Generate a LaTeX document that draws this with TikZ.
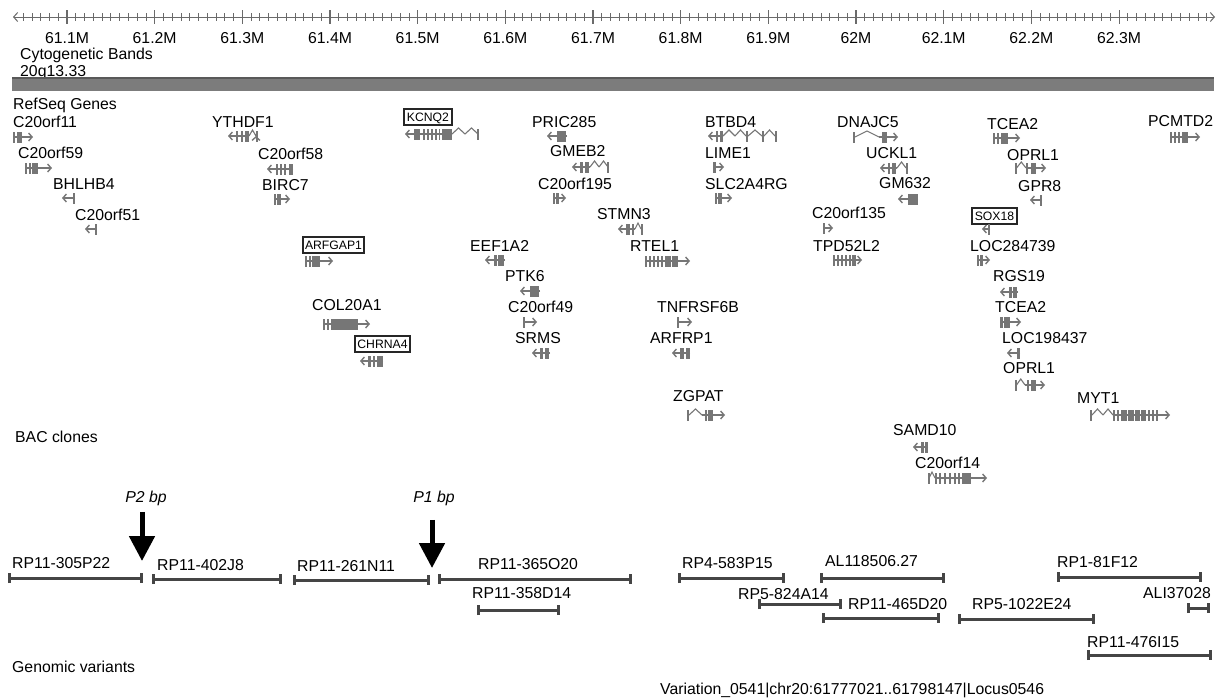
\documentclass[tikz,border=0pt]{standalone}
\usepackage{fontspec}
\setmainfont{Liberation Sans}
\usepackage{tikz}
\usetikzlibrary{arrows.meta, positioning}
\definecolor{genegray}{HTML}{767676}
\definecolor{bandgray}{HTML}{7C7C7C}
\definecolor{clonegray}{HTML}{454545}
\definecolor{rulergray}{HTML}{6A6A6A}
\newcommand{\lfont}{\fontsize{15.8}{18}\selectfont}
\newcommand{\bfont}{\fontsize{12.2}{14}\selectfont}
\tikzstyle{lbl} = [anchor=west, inner sep=0pt, text height=11.3pt, text depth=0pt, font=\lfont]
\tikzstyle{boxed} = [draw=black!85, line width=2pt, rectangle, inner xsep=2.5pt, inner ysep=3.5pt, text height=9pt, text depth=0pt, font=\bfont]
\tikzstyle{strand} = [draw=genegray, line width=1.4pt, -{Straight Barb[length=3.5pt,width=8pt]}]
\tikzstyle{exon} = [fill=genegray]
\tikzstyle{intron} = [draw=genegray, line width=1.1pt]
\tikzstyle{clonebar} = [draw=clonegray, line width=3pt, {Bar[width=10pt]}-{Bar[width=10pt]}]
\tikzstyle{bp} = [line width=5pt, -{Triangle[length=25pt,width=25pt]}]
% y, tail x, head x, exons
\newcommand{\gene}[4]{%
  \draw[strand] (#2,#1) -- (#3,#1);
  \foreach \xa/\xb in {#4} {\fill[exon] (\xa,#1-5.5) rectangle (\xb,#1+5.5);}}
\newcommand{\intronc}[3]{\draw[intron] (#2,#1) -- ({(#2+#3)/2},#1-6) -- (#3,#1);}
% name, label pos, bar x1, bar x2, bar y, text
\newcommand{\bacclone}[6]{%
  \node[lbl] (#1) at (#2) {#6};
  \draw[clonebar] (#3,#5) -- (#4,#5);}

\begin{document}
\begin{tikzpicture}[x=1pt,y=-1pt,>=latex]
    \fill[white] (0,0) rectangle (1219,699);
    \useasboundingbox (0,0) rectangle (1219,699);

    % ruler
    \coordinate (ruleL) at (13,17);
    \coordinate (ruleR) at (1215,17);
    \draw[rulergray, line width=1pt, {Straight Barb[length=4pt,width=9pt]}-{Straight Barb[length=4pt,width=9pt]}] (ruleL) -- (ruleR);
    \foreach \j in {-5,...,130} \draw[rulergray, line width=0.8pt] ({67+8.767*\j},13) -- ++(0,8);
    \foreach \lab [count=\k from 0] in {61.1M,61.2M,61.3M,61.4M,61.5M,61.6M,61.7M,61.8M,61.9M,62M,62.1M,62.2M,62.3M} {
        \draw[rulergray, line width=1.1pt] ({67+87.67*\k},10) -- ++(0,14);
        \node[lbl, anchor=center] (tick\k) at ({67+87.67*\k},38) {\lab};
    }

    \node[lbl] (cyto) at (20,54) {Cytogenetic Bands};
    \node[lbl] (band) at ([yshift=-17pt]cyto.west) {20q13.33};
    \fill[bandgray] (12,77) rectangle (1214,91);
    \draw[black!65, line width=1.5pt] (12,78) -- (1214,78);

    \node[lbl] (refseq) at (13,104) {RefSeq Genes};

    \node[lbl] (c20orf11) at (13,122) {C20orf11};
    \gene{137}{13}{33}{13/15,16.5/22}
    \node[lbl] (c20orf59) at (18,153) {C20orf59};
    \gene{168}{25}{52}{25/27,28.5/30.5,32/38}
    \node[lbl] (bhlhb4) at (53,184) {BHLHB4};
    \gene{198}{75}{62}{72.5/75}
    \node[lbl] (c20orf51) at (75,215) {C20orf51};
    \gene{229}{97}{85}{94.5/97}

    \node[lbl] (ythdf1) at (212,122) {YTHDF1};
    \gene{136}{249}{228}{236/238,241/243,245/249}
    \intronc{136}{249}{256}
    \gene{136}{256}{256}{256/258}
    \node[lbl] (c20orf58) at (258,154) {C20orf58};
    \gene{169}{293}{267}{276/278,280/282,284/286,289/293}
    \node[lbl] (birc7) at (262,185) {BIRC7};
    \gene{199}{274}{290}{274/276,277/281}
    \node[boxed] (arfgap1) at (333.5,245) {ARFGAP1};
    \gene{261}{305}{333}{305/307,308.5/310.5,312/320}
    \node[lbl] (col20a1) at (312,305) {COL20A1};
    \gene{324}{323}{370}{323/325,327/329,331/358}
    \node[boxed] (chrna4) at (382.5,344) {CHRNA4};
    \gene{361}{383}{360}{368/371,373/375,377/383}

    \node[boxed] (kcnq2) at (428,117) {KCNQ2};
    \gene{134}{452}{405}{414/420,423/424.5,427/428.5,431/432.5,435/436.5,438.5/440,442/452}
    \intronc{134}{452}{465}
    \intronc{134}{465}{478}
    \fill[exon] (477,128.5) rectangle (479,139.5);
    \node[lbl] (pric285) at (532,122) {PRIC285};
    \gene{136}{567}{547}{557/566}
    \node[lbl] (gmeb2) at (550,151) {GMEB2};
    \gene{167}{590}{572}{580/583,585/589}
    \intronc{167}{590}{599}
    \intronc{167}{599}{608}
    \fill[exon] (607,161.5) rectangle (609,172.5);
    \node[lbl] (c20orf195) at (538,184) {C20orf195};
    \gene{198}{553}{566}{553/555,556/559}
    \node[lbl] (stmn3) at (597,214) {STMN3};
    \gene{229}{635}{618}{626/630,632/634}
    \intronc{229}{635}{641}
    \fill[exon] (641,223.5) rectangle (643,234.5);
    \node[lbl] (eef1a2) at (470,246) {EEF1A2};
    \gene{260}{505}{485}{494/497,498/504}
    \node[lbl] (rtel1) at (630,246) {RTEL1};
    \gene{261}{645}{690}{645/647,649/651,653/655,657/659,661/663,665/671,672/678}
    \node[lbl] (ptk6) at (505,276) {PTK6};
    \gene{291}{540}{520}{530/539}
    \node[lbl] (c20orf49) at (508,307) {C20orf49};
    \gene{322}{523}{537}{523/525}
    \node[lbl] (srms) at (515,338) {SRMS};
    \gene{353}{550}{532}{540/543,545/549}

    \node[lbl] (btbd4) at (705,122) {BTBD4};
    \gene{136}{723}{708}{716/718,720/723}
    \intronc{136}{723}{735}
    \intronc{136}{735}{746}
    \intronc{136}{748}{762}
    \intronc{136}{764}{775}
    \foreach \xa in {746,762,775} \fill[exon] (\xa,130.5) rectangle (\xa+2,141.5);
    \node[lbl] (lime1) at (705,153) {LIME1};
    \gene{167}{713}{724}{713/716}
    \node[lbl] (slc2a4rg) at (705,184) {SLC2A4RG};
    \gene{198}{715}{732}{715/717,718/722}
    \node[lbl] (tnfrsf6b) at (657,307) {TNFRSF6B};
    \gene{322}{677}{692}{677/679}
    \node[lbl] (arfrp1) at (650,338) {ARFRP1};
    \gene{353}{690}{672}{680/684,686/690}
    \node[lbl] (zgpat) at (673,396) {ZGPAT};
    \intronc{415}{689}{702}
    \gene{415}{702}{725}{687/689,705/707,708/713}

    \node[lbl] (dnajc5) at (837,122) {DNAJC5};
    \intronc{137}{855}{879}
    \gene{137}{879}{898}{853/855,882/887}
    \node[lbl] (uckl1) at (866,153) {UCKL1};
    \gene{168}{897}{880}{888/890,892/896}
    \intronc{168}{897}{906}
    \fill[exon] (906,162.5) rectangle (908,173.5);
    \node[lbl] (gm632) at (879,183) {GM632};
    \gene{199}{918}{898}{908/918}
    \node[lbl] (c20orf135) at (812,213) {C20orf135};
    \gene{228}{823}{833}{823/825}
    \node[lbl] (tpd52l2) at (813,246) {TPD52L2};
    \gene{260}{833}{862}{833/835,837/839,841/843,845/847,849/850.5,852/856}
    \node[lbl] (samd10) at (893,430) {SAMD10};
    \gene{447}{928}{913}{921/924,925/928}
    \node[lbl] (c20orf14) at (915,463) {C20orf14};
    \intronc{478}{929}{935}
    \gene{478}{935}{987}{928/929.5,935/937,939/941,944/946,949/951,954/956,958/960,962/971}

    \node[lbl] (tcea2a) at (987,124) {TCEA2};
    \gene{138}{993}{1020}{993/995,997/999,1001/1008}
    \node[lbl] (oprl1a) at (1007,155) {OPRL1};
    \intronc{168}{1016.5}{1026}
    \gene{168}{1026}{1046}{1015/1016.5,1026/1028,1031/1036}
    \node[lbl] (gpr8) at (1018,186) {GPR8};
    \gene{200}{1042}{1030}{1040/1042}
    \node[boxed] (sox18) at (994.5,215.5) {SOX18};
    \gene{229}{990}{982}{988/990}
    \node[lbl] (loc284739) at (970,246) {LOC284739};
    \gene{260}{977}{990}{977/979,980/983}
    \node[lbl] (rgs19) at (993,276) {RGS19};
    \gene{292}{1018}{1000}{1009/1012,1013/1017}
    \node[lbl] (tcea2b) at (995,307) {TCEA2};
    \gene{322}{1000}{1021}{1000/1003,1004/1010}
    \node[lbl] (loc198437) at (1002,338) {LOC198437};
    \gene{353}{1020}{1007}{1017/1020}
    \node[lbl] (oprl1b) at (1003,368) {OPRL1};
    \intronc{385}{1016.5}{1025}
    \gene{385}{1025}{1045}{1015/1016.5,1027/1029,1031/1036}
    \node[lbl] (myt1) at (1077,398) {MYT1};
    \intronc{415}{1092}{1103}
    \intronc{415}{1103}{1113}
    \gene{415}{1113}{1170}{1090/1092,1113/1115,1117/1119,1121/1127,1128/1134,1135/1140,1141/1146,1148/1150,1152/1154,1156/1158}
    \node[lbl] (pcmtd2) at (1148,121) {PCMTD2};
    \gene{137}{1170}{1200}{1170/1172,1174/1176,1178/1180,1182/1188}

    \node[lbl] (bac) at (15,437) {BAC clones};

    \node[lbl, anchor=center, font=\lfont\itshape] (p2) at (146,497) {P2 bp};
    \coordinate (p2tip) at (142,561);
    \draw[bp, shorten <=9pt] (p2.south -| p2tip) -- (p2tip);
    \node[lbl, anchor=center, font=\lfont\itshape] (p1) at (434,497) {P1 bp};
    \coordinate (p1tip) at (432,568);
    \draw[bp, shorten <=17pt] (p1.south -| p1tip) -- (p1tip);

    \bacclone{rp305p22}{12,563}{8}{143}{578}{RP11-305P22}
    \bacclone{rp402j8}{157,565}{152}{282}{579}{RP11-402J8}
    \bacclone{rp261n11}{297,566}{293}{430}{580}{RP11-261N11}
    \bacclone{rp365o20}{478,564}{438}{632}{579}{RP11-365O20}
    \bacclone{rp358d14}{472,593}{477}{560}{610}{RP11-358D14}
    \bacclone{rp583p15}{682,563}{678}{785}{578}{RP4-583P15}
    \bacclone{rp824a14}{738,594}{758}{842}{604}{RP5-824A14}
    \bacclone{al118506}{825,561}{820}{945}{578}{AL118506.27}
    \bacclone{rp465d20}{848,604}{822}{940}{618}{RP11-465D20}
    \bacclone{rp1022e24}{972,604}{958}{1095}{619}{RP5-1022E24}
    \bacclone{rp81f12}{1057,562}{1057}{1202}{577}{RP1-81F12}
    \bacclone{ali37028}{1143,593}{1187}{1210}{608}{ALI37028}
    \bacclone{rp476i15}{1087,642}{1087}{1212}{655}{RP11-476I15}

    \node[lbl] (genvar) at (12,667) {Genomic variants};
    \node[lbl] (var0541) at (660,689) {Variation\_0541|chr20:61777021..61798147|Locus0546};
\end{tikzpicture}
\end{document}
